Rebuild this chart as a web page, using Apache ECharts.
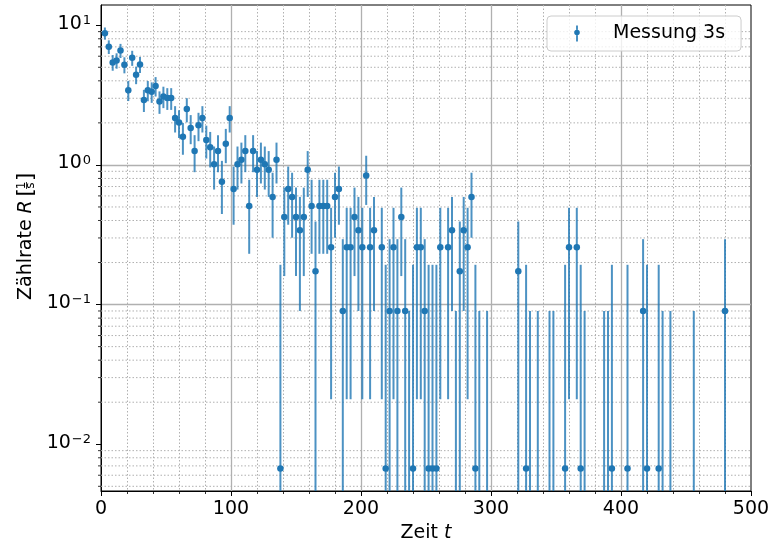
<!DOCTYPE html>
<html>
<head>
<meta charset="utf-8">
<title>Zählrate Messung 3s</title>
<script src="https://cdn.jsdelivr.net/npm/echarts@6/dist/echarts.min.js"></script>
<style>
  html, body { margin: 0; padding: 0; background: #fff; }
  #chart { width: 774px; height: 552px; }
</style>
</head>
<body>
<div id="chart"></div>
<script>
  // Messzeitpunkte t (alle 3 s)
  const times = [
    3, 6, 9, 12, 15, 18, 21, 24, 27, 30, 33, 36, 39, 42, 45, 48, 51, 54, 57, 60,
    63, 66, 69, 72, 75, 78, 81, 84, 87, 90, 93, 96, 99, 102, 105, 108, 111, 114, 117, 120,
    123, 126, 129, 132, 135, 138, 141, 144, 147, 150, 153, 156, 159, 162, 165, 168, 171, 174, 177, 180,
    183, 186, 189, 192, 195, 198, 201, 204, 207, 210, 213, 216, 219, 222, 225, 228, 231, 234, 237, 240,
    243, 246, 249, 252, 255, 258, 261, 264, 267, 270, 273, 276, 279, 282, 285, 288, 291, 294, 297, 300,
    303, 306, 309, 312, 315, 318, 321, 324, 327, 330, 333, 336, 339, 342, 345, 348, 351, 354, 357, 360,
    363, 366, 369, 372, 375, 378, 381, 384, 387, 390, 393, 396, 399, 402, 405, 408, 411, 414, 417, 420,
    423, 426, 429, 432, 435, 438, 441, 444, 447, 450, 453, 456, 459, 462, 465, 468, 471, 474, 477, 480
  ]

  // Zählrate R in 1/s (null = nicht sichtbar)
  const rates = [
    8.76, 7.01, 5.42, 5.59, 6.59, 5.21, 3.43, 5.84, 4.42, 5.24, 2.92, 3.42, 3.34, 3.67, 2.84, 3.09, 3.01, 3.01, 2.17, 2.01,
    1.59, 2.51, 1.84, 1.26, 1.92, 2.17, 1.51, 1.34, 1.01, 1.26, 0.757, 1.42, 2.17, 0.673, 1.01, 1.09, 1.26, 0.507, 1.26, 0.923,
    1.09, 1.01, 0.923, 0.59, 1.09, 0.0067, 0.424, 0.673, 0.59, 0.424, 0.34, 0.424, 0.923, 0.507, 0.173, 0.507, 0.507, 0.507, 0.257, 0.59,
    0.673, 0.09, 0.257, 0.257, 0.424, 0.34, 0.257, 0.84, 0.257, 0.34, null, 0.257, 0.0067, 0.09, 0.257, 0.09, 0.424, 0.09, -0.077, 0.0067,
    0.257, 0.257, 0.09, 0.0067, 0.0067, 0.0067, 0.257, null, 0.257, 0.34, -0.077, 0.173, 0.34, 0.257, 0.59, 0.0067, -0.077, null, -0.077, null,
    null, null, null, null, null, null, 0.173, null, 0.0067, -0.077, null, -0.077, null, null, -0.077, -0.077, null, null, 0.0067, 0.257,
    null, 0.257, 0.0067, -0.077, null, null, null, null, -0.077, -0.077, 0.0067, null, null, null, 0.0067, null, null, null, 0.09, 0.0067,
    null, null, 0.0067, -0.077, null, -0.077, null, null, null, null, null, -0.077, null, null, null, null, null, null, null, 0.09
  ]

  // Fehler von R
  const rateErrors = [
    0.874, 0.786, 0.697, 0.707, 0.764, 0.685, 0.565, 0.722, 0.635, 0.686, 0.527, 0.565, 0.559, 0.583, 0.520, 0.540, 0.534, 0.534, 0.464, 0.449,
    0.408, 0.493, 0.433, 0.373, 0.441, 0.464, 0.400, 0.382, 0.344, 0.373, 0.312, 0.391, 0.464, 0.300, 0.344, 0.354, 0.373, 0.276, 0.373, 0.333,
    0.354, 0.344, 0.333, 0.289, 0.354, 0.186, 0.264, 0.300, 0.289, 0.264, 0.250, 0.264, 0.333, 0.276, 0.220, 0.276, 0.276, 0.276, 0.236, 0.289,
    0.300, 0.204, 0.236, 0.236, 0.264, 0.250, 0.236, 0.323, 0.236, 0.250, null, 0.236, 0.186, 0.204, 0.236, 0.204, 0.264, 0.204, 0.167, 0.186,
    0.236, 0.236, 0.204, 0.186, 0.186, 0.186, 0.236, null, 0.236, 0.250, 0.167, 0.220, 0.250, 0.236, 0.289, 0.186, 0.167, null, 0.167, null,
    null, null, null, null, null, null, 0.220, null, 0.186, 0.167, null, 0.167, null, null, 0.167, 0.167, null, null, 0.186, 0.236,
    null, 0.236, 0.186, 0.167, null, null, null, null, 0.167, 0.167, 0.186, null, null, null, 0.186, null, null, null, 0.204, 0.186,
    null, null, 0.186, 0.167, null, 0.167, null, null, null, null, null, 0.167, null, null, null, null, null, null, null, 0.204
  ]

  const majorYTicks = [0.01, 0.1, 1, 10]
  const minorYTicks = [
    0.005, 0.006, 0.007, 0.008, 0.009,
    0.02, 0.03, 0.04, 0.05, 0.06, 0.07, 0.08, 0.09,
    0.2, 0.3, 0.4, 0.5, 0.6, 0.7, 0.8, 0.9,
    2, 3, 4, 5, 6, 7, 8, 9
  ]
  const yMin = 0.004627
  const yMax = 13.96

  const FONT = 'DejaVu Sans'
  const BLUE = '#1f77b4'
  const GRID = '#b0b0b0'

  const points = []
  const bars = []
  times.forEach((t, i) => {
    const r = rates[i]
    if (r === null) return
    const e = rateErrors[i]
    bars.push([t, r - e, r + e])
    if (r > 0) points.push([t, r])
  })

  const chart = echarts.init(document.getElementById('chart'))

  const supText = e => (e < 0 ? '\u2212' + (-e) : '' + e)

  chart.setOption({
    animation: false,
    grid: {
      left: 101, right: 23, top: 5, bottom: 61,
      show: true, borderColor: '#000', borderWidth: 1, backgroundColor: 'transparent'
    },
    legend: {
      left: 547, top: 16,
      padding: [8, 16, 8, 15],
      backgroundColor: 'rgba(255,255,255,0.8)',
      borderColor: '#cccccc', borderWidth: 1, borderRadius: 4,
      itemWidth: 46, itemHeight: 16,
      textStyle: { fontFamily: FONT, fontSize: 19, color: '#000' },
      data: [{
        name: 'Messung 3s',
        icon: 'path://M0,0M46,16M14.2,0h1.6v4.3h-1.6zM14.2,9.7h1.6v6.3h-1.6zM12.2,7a2.8,2.8 0 1,0 5.6,0a2.8,2.8 0 1,0 -5.6,0z'
      }]
    },
    xAxis: {
      type: 'value', min: 0, max: 500, interval: 100,
      name: '{n|Zeit }{i|t}',
      nameLocation: 'middle', nameGap: 33,
      nameTextStyle: {
        rich: {
          n: { fontFamily: FONT, fontSize: 19, color: '#000' },
          i: { fontFamily: FONT, fontSize: 19, fontStyle: 'italic', color: '#000' }
        }
      },
      axisLine: { show: true, lineStyle: { color: '#000', width: 1 } },
      axisTick: { show: true, length: 5, lineStyle: { color: '#000', width: 1 } },
      minorTick: { show: true, splitNumber: 5, length: 3, lineStyle: { color: '#000', width: 0.8 } },
      axisLabel: { margin: 9, fontFamily: FONT, fontSize: 19, color: '#000' },
      splitLine: { show: true, showMinLine: false, showMaxLine: false, lineStyle: { color: GRID, width: 1.3 } },
      minorSplitLine: { show: true, lineStyle: { color: GRID, width: 1, type: [1.5, 2] } }
    },
    yAxis: {
      type: 'log', min: yMin, max: yMax,
      axisLine: { show: true, lineStyle: { color: '#000', width: 1 } },
      axisTick: { show: true, length: 5, customValues: majorYTicks, lineStyle: { color: '#000', width: 1 } },
      axisLabel: {
        margin: 10,
        customValues: majorYTicks,
        padding: [0, 0, 3, 0],
        formatter: v => {
          const lg = Math.log10(v)
          const e = Math.round(lg)
          if (Math.abs(lg - e) > 1e-6) return ''
          return '{b|10}{s|' + supText(e) + '}'
        },
        rich: {
          b: { fontFamily: FONT, fontSize: 19, lineHeight: 19, color: '#000', verticalAlign: 'bottom' },
          s: { fontFamily: FONT, fontSize: 13, lineHeight: 13, color: '#000', verticalAlign: 'top', padding: [0, 0, 9, 1] }
        }
      },
      splitLine: { show: true, showMinLine: false, showMaxLine: false, lineStyle: { color: GRID, width: 1.3 } }
    },
    graphic: [{
      type: 'group',
      x: 26, y: 300,
      rotation: Math.PI / 2,
      silent: true,
      children: [
        { type: 'text', x: 0, y: 0, style: { text: 'Zählrate', fontFamily: FONT, fontSize: 19, fill: '#000', align: 'left', verticalAlign: 'middle' } },
        { type: 'text', x: 86.5, y: 0, style: { text: 'R', fontFamily: FONT, fontSize: 19, fontStyle: 'italic', fill: '#000', align: 'left', verticalAlign: 'middle' } },
        { type: 'text', x: 103.5, y: 1, style: { text: '[', fontFamily: FONT, fontSize: 21, fill: '#000', align: 'left', verticalAlign: 'middle' } },
        { type: 'text', x: 114.5, y: -4, style: { text: '1', fontFamily: FONT, fontSize: 12, fill: '#000', align: 'center', verticalAlign: 'middle' } },
        { type: 'line', shape: { x1: 111, y1: 0.5, x2: 118, y2: 0.5 }, style: { stroke: '#000', lineWidth: 0.8 } },
        { type: 'text', x: 114.5, y: 5, style: { text: 's', fontFamily: FONT, fontSize: 12, fill: '#000', align: 'center', verticalAlign: 'middle' } },
        { type: 'text', x: 119, y: 1, style: { text: ']', fontFamily: FONT, fontSize: 21, fill: '#000', align: 'left', verticalAlign: 'middle' } }
      ]
    }],
    series: [
      {
        // minor log grid + ticks on the y axis
        type: 'custom',
        silent: true,
        clip: false,
        z: 1,
        data: minorYTicks.map(v => [0, v]),
        encode: { x: 0, y: 1 },
        renderItem(params, api) {
          const cs = params.coordSys
          const y = api.coord([0, api.value(1)])[1]
          return {
            type: 'group',
            children: [
              { type: 'line', shape: { x1: cs.x, y1: y, x2: cs.x + cs.width, y2: y }, style: { stroke: GRID, lineWidth: 1, lineDash: [1.5, 2] } },
              { type: 'line', shape: { x1: cs.x - 3, y1: y, x2: cs.x, y2: y }, style: { stroke: '#000', lineWidth: 0.8 } }
            ]
          }
        }
      },
      {
        // error bars
        type: 'custom',
        silent: true,
        clip: true,
        z: 2,
        data: bars,
        encode: { x: 0, y: 2 },
        renderItem(params, api) {
          const t = api.value(0)
          let lo = api.value(1)
          const hi = api.value(2)
          if (!(hi > 0)) return
          if (lo < yMin) lo = yMin
          const p1 = api.coord([t, lo])
          const p2 = api.coord([t, hi])
          return {
            type: 'line',
            shape: { x1: p1[0], y1: p1[1], x2: p2[0], y2: p2[1] },
            style: { stroke: 'rgba(31,119,180,0.8)', lineWidth: 2 }
          }
        }
      },
      {
        name: 'Messung 3s',
        type: 'scatter',
        z: 3,
        symbolSize: 6.5,
        itemStyle: { color: BLUE, opacity: 1 },
        data: points
      }
    ]
  })
</script>
</body>
</html>
